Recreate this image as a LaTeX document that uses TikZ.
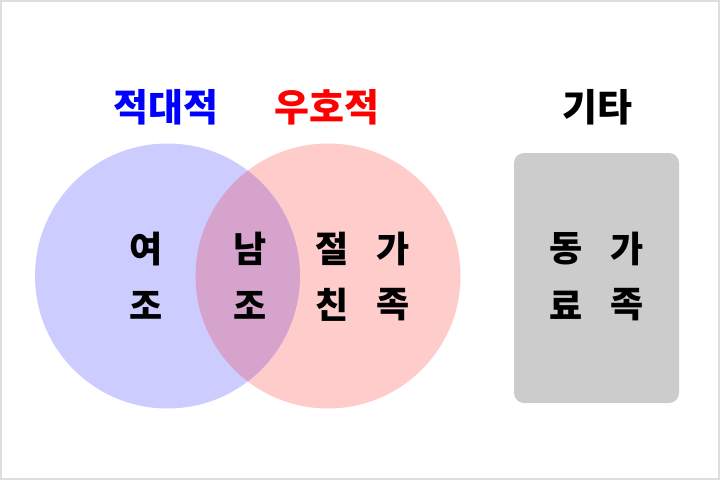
\documentclass[tikz,border=0pt]{standalone}
\usepackage{fontspec}
\setmainfont{Noto Sans CJK KR}
\begin{document}
\begin{tikzpicture}[x=1pt,y=-1pt,
  ch/.style={font=\fontsize{36}{38}\selectfont\bfseries, inner sep=0pt, anchor=center},
  ttl/.style={font=\fontsize{38}{40}\selectfont\bfseries, inner sep=0pt, anchor=center}]
\useasboundingbox (0,0) rectangle (720,480);
\draw[draw=black!13, line width=2pt] (1,1) rectangle (719,479);
\fill[blue, fill opacity=0.2] (167.5,276) circle (132.5);
\fill[red, fill opacity=0.2] (328,276) circle (132.5);
\fill[black!20, rounded corners=10pt] (514,153) rectangle (679,403);
\node[ttl, text=blue] (t1) at (166,107) {적대적};
\node[ttl, text=red] (t2) at (327,107) {우호적};
\node[ttl] (t3) at (597,107) {기타};
\node[ch] (a1) at (146,249) {여};
\node[ch] (a2) at (146,305) {조};
\node[ch] (b1) at (250,249) {남};
\node[ch] (b2) at (250,305) {조};
\node[ch] (c1) at (332.5,249) {절};
\node[ch] (c2) at (332.5,305) {친};
\node[ch] (d1) at (393.5,249) {가};
\node[ch] (d2) at (393.5,305) {족};
\node[ch] (e1) at (566.5,249) {동};
\node[ch] (e2) at (566.5,305) {료};
\node[ch] (f1) at (627.5,249) {가};
\node[ch] (f2) at (627.5,305) {족};
\end{tikzpicture}
\end{document}
